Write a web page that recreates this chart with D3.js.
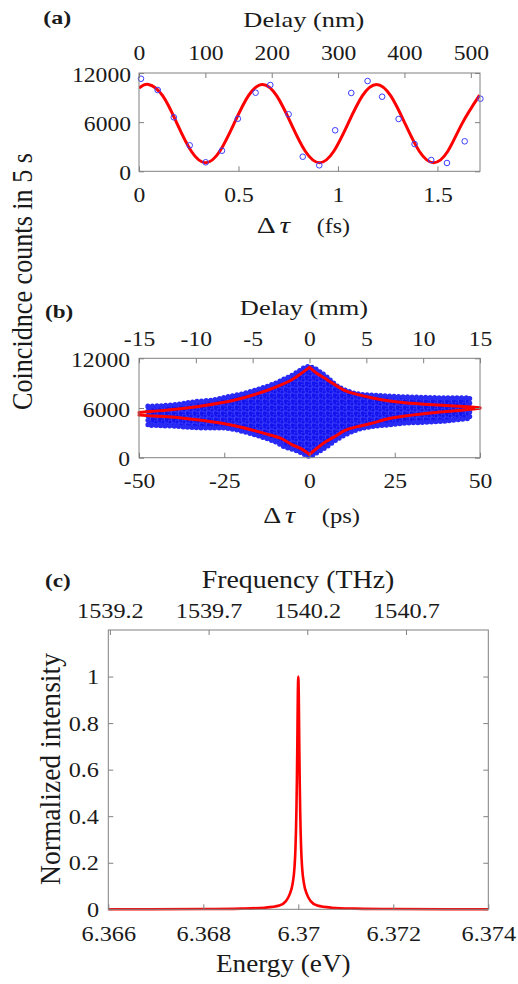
<!DOCTYPE html>
<html><head><meta charset="utf-8">
<script src="https://cdn.jsdelivr.net/npm/d3@7"></script>
<style>
body{margin:0;background:#fff}
svg{display:block}
text{font-family:"Liberation Serif","Times New Roman",Times,Tinos,"Nimbus Roman",FreeSerif,serif;fill:#1a1a1a}
</style>
</head><body>
<svg id="chart" width="518" height="984"></svg>
<script>
// ---------- Panel (a) data ----------
const aTau = [0.010,0.094,0.175,0.255,0.335,0.417,0.497,0.586,0.660,0.752,0.823,0.906,0.986,1.067,1.149,1.222,1.305,1.385,1.469,1.548,1.637,1.716];
const aCounts = [11300,9925,6590,3170,1100,2515,6420,9595,10535,6960,1780,730,5005,9560,11020,9105,6385,3330,1380,1015,3660,8860];
const aFitTau = [0,0.048,0.1196,0.1913,0.2629,0.3345,0.4061,0.4778,0.5494,0.621,0.6926,0.7643,0.8359,0.9075,0.9791,1.0508,1.1224,1.194,1.2656,1.3373,1.4089,1.4805,1.5521,1.6238,1.712];
const aFitCounts = [10150,10600,9200,5825,2450,1050,2450,5825,9200,10600,9200,5825,2450,1050,2450,5825,9200,10600,9200,5825,2450,1050,2450,5825,9300];
const aBottomTicks = [0,0.5,1,1.5];
const aTopTicks = [0,100,200,300,400,500];
const countTicks = [0,6000,12000];

// ---------- Panel (b) data ----------
const bEnvTau = [-47.4,-43.7,-38,-33.9,-28,-24.1,-19,-14.3,-10,-7.5,-5,-3,-1.5,0,1.5,3,5,8.5,13.5,18.2,23,28,33,37.7,42,47];
const bCloudUpper = [6250,6280,6500,6760,7000,7360,7800,8380,9000,9500,10000,10500,10900,11000,10800,10400,9800,8570,7770,7570,7450,7360,7300,7250,7250,7240];
const bCloudLower = [3900,3860,3750,3620,3580,3540,3100,2530,1900,1330,1000,700,400,150,450,800,1300,2300,3300,3740,3950,4150,4250,4350,4500,4750];
const bFitTau = [-50,-46,-41.5,-31.7,-21.9,-12.1,-8.5,-5.3,-2.5,0,2,4.5,7,10.4,14,18.2,23,28,37.7,44,50];
const bFitUpper = [5450,5600,5757,6240,6965,8170,8760,9380,10150,10900,10230,9580,8930,8100,7650,7240,6880,6640,6360,6210,6035];
const bFitLower = [5140,5020,4950,4510,3860,2800,2350,1617,1090,400,1080,1860,2450,3300,3750,4150,4700,5030,5480,5700,5965];
const bBottomTicks = [-50,-25,0,25,50];
const bTopTicks = [-15,-10,-5,0,5,10,15];

// ---------- Panel (c) data ----------
const cEnergy = [6.366,6.368,6.3688,6.3693,6.3696,6.36974,6.36982,6.36988,6.36992,6.36994,6.36996,6.36997,6.36998,6.36999,6.37,6.37001,6.37002,6.37003,6.37004,6.37006,6.37008,6.37012,6.37018,6.37026,6.3704,6.3707,6.3712,6.372,6.374];
const cIntensity = [0,0.001,0.003,0.007,0.016,0.035,0.065,0.11,0.18,0.26,0.42,0.55,0.72,0.92,1,0.92,0.72,0.55,0.42,0.26,0.18,0.11,0.065,0.035,0.016,0.007,0.003,0.001,0];
const cBottomTicks = [6.366,6.368,6.37,6.372,6.374];
const cTopTicks = [1539.2,1539.7,1540.2,1540.7];
const cLeftTicks = [0,0.2,0.4,0.6,0.8,1];

// ---------- helpers ----------
const FONT = '"Liberation Serif","Times New Roman",Times,Tinos,"Nimbus Roman",FreeSerif,serif';
const svg = d3.select("#chart");
const GRAY = "#808080";
const RED = "#ff0000";

const defs = svg.append("defs");
const pat = defs.append("pattern").attr("id", "cloudPat")
  .attr("patternUnits", "userSpaceOnUse").attr("width", 7).attr("height", 6);
pat.append("rect").attr("width", 7).attr("height", 6).attr("fill", "#1414ee");
[[2, 2], [5.5, 5]].forEach(([cx, cy]) => pat.append("circle")
  .attr("cx", cx).attr("cy", cy).attr("r", 2.2)
  .attr("fill", "none").attr("stroke", "#4a4aff").attr("stroke-width", 0.7));

// measure the natural width of a string in the current font
function measure(str, size, weight, italic) {
  const t = svg.append("text").attr("font-size", size).attr("font-family", FONT)
    .attr("font-weight", weight || null).attr("font-style", italic ? "italic" : null).text(str);
  const w = t.node().getComputedTextLength();
  t.remove();
  return w || 1;
}
// horizontal text stretched to a target width
function addText(x, y, str, size, target, anchor, weight) {
  const t = svg.append("text").attr("text-anchor", anchor).attr("font-size", size)
    .attr("font-weight", weight || null).text(str);
  const sx = target / (t.node().getComputedTextLength() || 1);
  t.attr("transform", `translate(${x},${y}) scale(${sx},1)`);
  return t;
}
// vertical text: length along y fixed to a target, glyph height stretched by sx
function addVText(x, y, str, size, targetLen, sx) {
  const t = svg.append("text").attr("text-anchor", "middle").attr("font-size", size).text(str);
  const len = t.node().getComputedTextLength() || 1;
  t.attr("font-size", size * targetLen / len);
  t.attr("transform", `translate(${x},${y}) scale(${sx},1) rotate(-90)`);
  return t;
}
function drawAxis(gen, tx, ty, fs, sx, side, pad, labels, dy) {
  gen.tickSizeInner(-5).tickSizeOuter(0).tickPadding(pad);
  if (!labels) gen.tickFormat("");
  else gen.tickFormat(d => String(d));
  const g = svg.append("g").attr("transform", `translate(${tx},${ty})`).call(gen);
  g.attr("font-family", FONT).attr("font-size", fs).attr("color", GRAY);
  g.select(".domain").remove();
  g.selectAll(".tick line").attr("stroke", GRAY).attr("stroke-width", 1);
  g.selectAll(".tick text").attr("fill", "#1a1a1a").each(function () {
    const t = d3.select(this);
    if (side === "left") t.attr("x", -pad / sx).attr("dy", dy || "0.4em");
    t.attr("transform", `scale(${sx},1)`);
  });
}
function frame(x0, x1, y0, y1) {
  svg.append("rect").attr("x", x0).attr("y", y0).attr("width", x1 - x0).attr("height", y1 - y0)
    .attr("fill", "none").attr("stroke", GRAY).attr("stroke-width", 1);
}
function deltaTau(x, y, target, unit, ux, uTarget) {
  const t = svg.append("text").attr("font-size", 23);
  t.append("tspan").text("Δ");
  t.append("tspan").attr("dx", 3).attr("font-style", "italic").text("τ");
  const sx = target / (t.node().getComputedTextLength() + 3);
  t.attr("transform", `translate(${x},${y}) scale(${sx},1)`);
  addText(ux, y, unit, 21, uTarget, "start");
}

// tick-label stretch factors, calibrated on reference label widths
const sxAB = 59 / measure("12000", 20);
const sxC = 66.7 / measure("1539.2", 22);

// ---------- Panel (a) ----------
{
  const X0 = 139, X1 = 480, Y0 = 73, Y1 = 171.3;
  const x = d3.scaleLinear().domain([0, 1.714]).range([X0, X1]);
  const xTop = d3.scaleLinear().domain([0, 1.714 * 299.79]).range([X0, X1]);
  const y = d3.scaleLinear().domain([0, 12000]).range([Y1, Y0]);
  svg.append("clipPath").attr("id", "clipA").append("rect")
    .attr("x", X0).attr("y", Y0).attr("width", X1 - X0).attr("height", Y1 - Y0);
  svg.append("path")
    .datum(aFitTau.map((t, i) => [t, aFitCounts[i]]))
    .attr("clip-path", "url(#clipA)")
    .attr("fill", "none").attr("stroke", RED).attr("stroke-width", 3)
    .attr("d", d3.line().x(d => x(d[0])).y(d => y(d[1])).curve(d3.curveNatural));
  svg.append("g").selectAll("circle").data(aTau).join("circle")
    .attr("cx", d => x(d)).attr("cy", (d, i) => y(aCounts[i])).attr("r", 2.8)
    .attr("fill", "none").attr("stroke", "#3c3cff").attr("stroke-width", 1);
  frame(X0, X1, Y0, Y1);
  drawAxis(d3.axisBottom(x).tickValues(aBottomTicks), 0, Y1, 20, sxAB, "bottom", 16.2, true);
  drawAxis(d3.axisTop(xTop).tickValues(aTopTicks), 0, Y0, 20, sxAB, "top", 13, true);
  drawAxis(d3.axisLeft(y).tickValues(countTicks), X0, 0, 20, sxAB, "left", 8, true);
  drawAxis(d3.axisRight(y).tickValues(countTicks), X1, 0, 20, sxAB, "right", 3, false);
  addText(43.3, 24, "(a)", 19, 28, "start", "bold");
  addText(303.8, 27, "Delay (nm)", 21, 121, "middle");
  deltaTau(256.7, 233.3, 33.3, "(fs)", 316.7, 33.3);
}

// ---------- Panel (b) ----------
{
  const X0 = 139, X1 = 480, Y0 = 358.3, Y1 = 457.7;
  const x = d3.scaleLinear().domain([-50, 50]).range([X0, X1]);
  const xTop = d3.scaleLinear().domain([-15, 15]).range([X0, X1]);
  const y = d3.scaleLinear().domain([0, 12000]).range([Y1, Y0]);
  const cloud = bEnvTau.map((t, i) => ({ t, hi: bCloudUpper[i], lo: bCloudLower[i] }));
  const area = d3.area().x(d => x(d.t)).y0(d => y(d.lo)).y1(d => y(d.hi)).curve(d3.curveCatmullRom);
  svg.append("path").datum(cloud)
    .attr("fill", "url(#cloudPat)").attr("stroke", "#1a1aee").attr("stroke-width", 2).attr("stroke-linejoin", "round")
    .attr("d", area);
  svg.append("path").datum(cloud)
    .attr("fill", "none").attr("stroke", "#2a2af5").attr("stroke-width", 5)
    .attr("stroke-linecap", "round").attr("stroke-dasharray", "0 4.5")
    .attr("d", area);
  const line = d3.line().x(d => x(d[0])).y(d => y(d[1])).curve(d3.curveCatmullRom);
  const zi = bFitTau.indexOf(0);
  [bFitUpper, bFitLower].forEach(arr => {
    const pts = bFitTau.map((t, i) => [t, arr[i]]);
    [pts.slice(0, zi + 1), pts.slice(zi)].forEach(seg => {
      svg.append("path").datum(seg)
        .attr("fill", "none").attr("stroke", RED).attr("stroke-width", 3).attr("stroke-linecap", "round")
        .attr("d", line);
    });
  });
  frame(X0, X1, Y0, Y1);
  drawAxis(d3.axisBottom(x).tickValues(bBottomTicks), 0, Y1, 20, sxAB, "bottom", 16.4, true);
  drawAxis(d3.axisTop(xTop).tickValues(bTopTicks), 0, Y0, 20, sxAB, "top", 12.3, true);
  drawAxis(d3.axisLeft(y).tickValues(countTicks), X0, 0, 20, sxAB, "left", 9, true);
  drawAxis(d3.axisRight(y).tickValues(countTicks), X1, 0, 20, sxAB, "right", 3, false);
  addText(45, 318.3, "(b)", 19, 28.3, "start", "bold");
  addText(304, 315, "Delay (mm)", 21, 128.3, "middle");
  deltaTau(263.3, 523.3, 31.7, "(ps)", 321.7, 38.3);
}

// shared y label for (a) and (b)
addVText(31.7, 281.5, "Coincidnce counts in 5 s", 26, 257, 1.16);

// ---------- Panel (c) ----------
{
  const X0 = 108.3, X1 = 488.3, Y0 = 630, Y1 = 909.3;
  const x = d3.scaleLinear().domain([6.366, 6.374]).range([X0, X1]);
  const xTop = d3.scaleLinear().domain([1539.192, 1541.117]).range([X0, X1]);
  const y = d3.scaleLinear().domain([0, 1.2]).range([Y1, Y0]);
  svg.append("path")
    .datum(cEnergy.map((e, i) => [e, cIntensity[i]]))
    .attr("fill", "none").attr("stroke", RED).attr("stroke-width", 2.6).attr("stroke-linejoin", "round")
    .attr("d", d3.line().x(d => x(d[0])).y(d => y(d[1])).curve(d3.curveMonotoneX));
  frame(X0, X1, Y0, Y1);
  drawAxis(d3.axisBottom(x).tickValues(cBottomTicks), 0, Y1, 22, sxC, "bottom", 16, true);
  drawAxis(d3.axisTop(xTop).tickValues(cTopTicks), 0, Y0, 22, sxC, "top", 12.3, true);
  drawAxis(d3.axisLeft(y).tickValues(cLeftTicks), X0, 0, 22, sxC, "left", 9.3, true, "0.32em");
  drawAxis(d3.axisRight(y).tickValues(cLeftTicks), X1, 0, 22, sxC, "right", 3, false);
  addText(45, 586.7, "(c)", 19, 25.7, "start", "bold");
  addText(298, 587.7, "Frequency (THz)", 26, 192.7, "middle");
  addText(283.3, 972.3, "Energy (eV)", 26, 134.7, "middle");
  addVText(60, 769, "Normalized intensity", 27, 232, 1.09);
}
</script>
</body></html>
